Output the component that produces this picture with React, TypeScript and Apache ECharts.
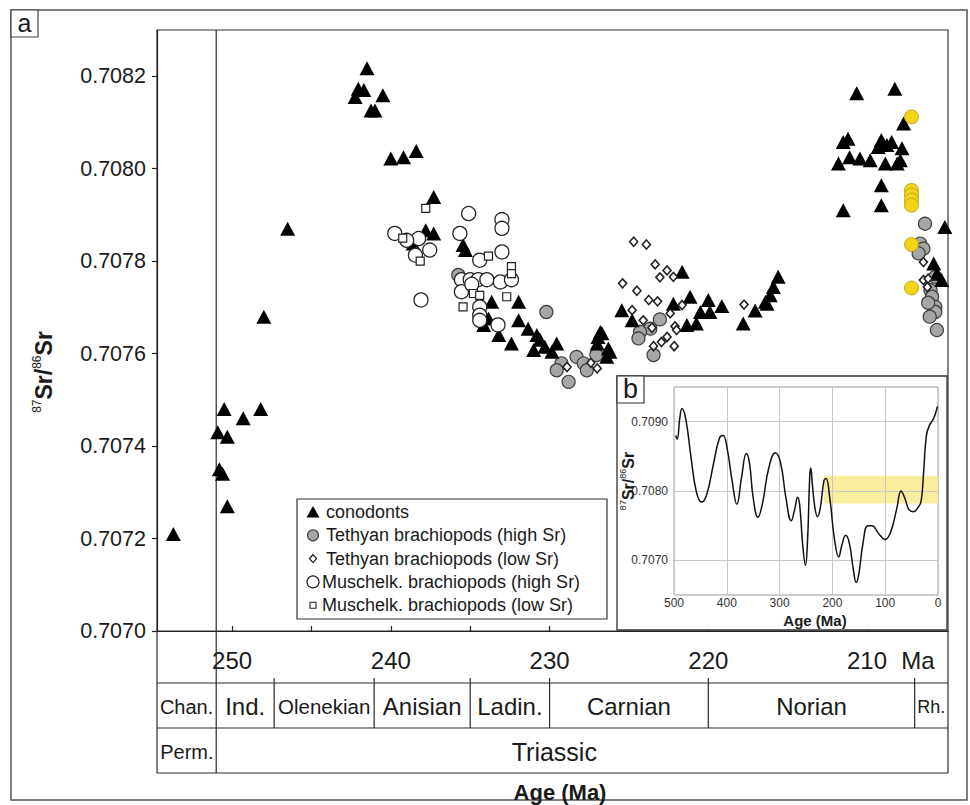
import React, { useEffect, useRef } from 'react';
import * as echarts from 'echarts';

// ---------- data (age in Ma, 87Sr/86Sr) ----------
const conodonts: number[][] = [
  [253.7, 0.70721], [250.9, 0.70743], [250.3, 0.70742], [250.5, 0.70748], [250.8, 0.70735], [250.6, 0.70734],
  [250.3, 0.70727], [249.3, 0.70746], [248.2, 0.70748], [248.0, 0.70768], [246.5, 0.70787],
  [242.25, 0.708155], [242.05, 0.708173], [241.7, 0.70817], [241.5, 0.708217], [241.25, 0.708126], [241.0, 0.708126],
  [240.5, 0.708159], [240.0, 0.708022], [239.2, 0.708025], [238.4, 0.708038],
  [237.3, 0.707939], [237.8, 0.707867], [237.3, 0.70786], [238.6, 0.707838], [235.45, 0.707835], [235.3, 0.707824],
  [233.65, 0.707712], [231.95, 0.707712], [231.95, 0.707672], [233.85, 0.707676], [234.15, 0.707662], [233.2, 0.70764],
  [231.35, 0.707654], [232.4, 0.707622], [230.8, 0.70764], [230.6, 0.70763], [231.0, 0.707608], [230.3, 0.707615],
  [229.55, 0.707622], [229.85, 0.707604],
  [226.8, 0.707647], [226.95, 0.707636], [227.0, 0.707622], [226.2, 0.707604], [226.7, 0.707644], [226.3, 0.707611],
  [226.4, 0.707593], [225.45, 0.707694], [224.8, 0.707672],
  [221.65, 0.707777], [221.15, 0.707723], [222.2, 0.707708], [220.0, 0.707716], [219.15, 0.707703], [220.5, 0.70769],
  [219.9, 0.70769], [221.35, 0.707662], [220.75, 0.707665],
  [217.8, 0.707665], [217.05, 0.707693], [216.3, 0.707708], [216.1, 0.707726], [216.4, 0.707712], [215.9, 0.707744],
  [215.6, 0.707766],
  [211.5, 0.70791], [209.1, 0.707921], [209.1, 0.707964],
  [211.8, 0.708011], [211.1, 0.708025], [210.45, 0.708022], [209.8, 0.708018], [211.2, 0.708065], [211.5, 0.708058],
  [209.1, 0.708062], [208.45, 0.708058], [207.8, 0.708044], [209.3, 0.708047], [208.75, 0.708051], [208.85, 0.708011],
  [208.1, 0.708011], [207.9, 0.708018], [207.7, 0.708098], [210.65, 0.708163], [208.25, 0.708173],
  [205.1, 0.707874], [205.8, 0.707795], [205.6, 0.707773], [205.3, 0.707759],
];

const tethyanHighSr: number[][] = [
  [235.75, 0.70777], [230.2, 0.70769], [227.05, 0.707597], [229.25, 0.707579], [229.55, 0.707564], [228.8, 0.707539],
  [228.3, 0.707593], [227.85, 0.707579], [227.65, 0.707564], [223.05, 0.707674], [223.65, 0.707654], [224.3, 0.707647],
  [224.4, 0.707633], [223.45, 0.707597],
  [206.35, 0.707881], [206.65, 0.707838], [206.45, 0.707827], [206.75, 0.707817], [205.7, 0.707766], [206.0, 0.707737],
  [205.9, 0.707723], [205.7, 0.707701], [205.7, 0.70769], [205.6, 0.707651], [206.15, 0.70771], [206.05, 0.70768],
];

const tethyanLowSr: number[][] = [
  [225.4, 0.707752], [224.7, 0.707842], [223.9, 0.707836], [223.35, 0.707793], [222.6, 0.70778], [223.05, 0.707765],
  [222.2, 0.707766], [224.5, 0.707736], [223.75, 0.707716], [223.2, 0.707713], [224.8, 0.707694], [221.65, 0.707705],
  [224.1, 0.707672], [222.4, 0.707687], [223.55, 0.707656], [222.1, 0.707659], [222.0, 0.707651], [222.6, 0.707636],
  [222.95, 0.707625], [223.45, 0.707616], [222.15, 0.707616], [217.75, 0.707706], [228.9, 0.707571], [227.0, 0.707568],
  [227.4, 0.70758], [206.45, 0.707798], [206.45, 0.707759], [206.15, 0.707762], [206.2, 0.707744],
];

const muschelkHighSr: number[][] = [
  [239.75, 0.70786], [238.25, 0.707849], [237.55, 0.707824], [238.45, 0.707813], [238.1, 0.707716], [239.0, 0.707845],
  [235.1, 0.707903], [235.65, 0.70786], [233.0, 0.70789], [233.0, 0.707871], [233.0, 0.70782], [234.4, 0.707802],
  [235.55, 0.70776], [235.0, 0.70776], [234.5, 0.70776], [233.95, 0.70776], [233.1, 0.707755], [232.4, 0.70776],
  [235.55, 0.707734], [234.4, 0.707701], [234.4, 0.707683], [234.4, 0.707672], [233.25, 0.707662], [234.9, 0.70775],
];

const muschelkLowSr: number[][] = [
  [237.8, 0.707914], [239.25, 0.70785], [238.15, 0.7078], [233.85, 0.707811], [232.4, 0.707788], [232.4, 0.707773],
  [232.7, 0.707723], [235.45, 0.707701], [234.8, 0.70773], [234.4, 0.707726],
];

const highlightedSamples: number[][] = [
  [207.2, 0.708112], [207.2, 0.707953], [207.2, 0.707943], [207.2, 0.707932], [207.2, 0.707921], [207.2, 0.707836],
  [207.2, 0.707742],
];

const xTickValues = [210, 215, 220, 225, 230, 235, 240, 245, 250];
const xLabelValues = [210, 220, 230, 240, 250];
const yTickValues = [0.707, 0.7072, 0.7074, 0.7076, 0.7078, 0.708, 0.7082];

const stageNames = ['Chan.', 'Ind.', 'Olenekian', 'Anisian', 'Ladin.', 'Carnian', 'Norian', 'Rh.'];
const stageBoundaries = [251, 247.35, 241.05, 235.0, 230.0, 220.0, 207.0];
const periodNames = ['Perm.', 'Triassic'];
const periodBoundary = 251;
const periodLabelAges = [252.85, 229.7];

const legendNames = [
  'conodonts',
  'Tethyan brachiopods (high Sr)',
  'Tethyan brachiopods (low Sr)',
  'Muschelk. brachiopods (high Sr)',
  'Muschelk. brachiopods (low Sr)',
];

// inset b: Phanerozoic seawater curve
const insetAges = [
  497, 494, 489, 485, 478, 468, 458, 448, 438, 425, 414, 407, 399, 390, 381, 372, 363, 357, 350, 341, 333, 320, 308,
  298, 288, 278, 271, 266, 262, 256, 251, 247, 243, 241, 238, 233, 228, 223, 216, 212, 205, 196, 188, 182, 175, 168,
  160, 155, 150, 142, 133, 125, 112, 100, 90, 78, 70, 63, 55, 47, 38, 32, 27, 22, 16, 8, 1,
];
const insetSr = [
  0.7088, 0.70875, 0.70905, 0.70919, 0.70905, 0.7085, 0.708, 0.70784, 0.70795, 0.7084, 0.70876, 0.7088, 0.7086, 0.70815,
  0.70781, 0.7082, 0.70854, 0.7084, 0.7079, 0.70762, 0.7078, 0.70835, 0.70855, 0.7084, 0.7079, 0.70757, 0.70775,
  0.70791, 0.7078, 0.7072, 0.70693, 0.7073, 0.7082, 0.70833, 0.7081, 0.70775, 0.70763, 0.70775, 0.70815, 0.70818,
  0.7079, 0.7073, 0.70705, 0.70722, 0.70736, 0.70725, 0.70685, 0.70668, 0.7068, 0.70725, 0.7075, 0.7075, 0.70738,
  0.7073, 0.7074, 0.70775, 0.708, 0.7079, 0.70773, 0.7077, 0.70776, 0.70785, 0.7083, 0.7088, 0.70895, 0.70905, 0.70922,
];
const insetYLabels = [0.707, 0.708, 0.709];
const bandAges = [216, 0];
const bandSr = [0.70782, 0.70822];

const FONT = '"Liberation Sans", Arial, Helvetica, sans-serif';
const INK = '#1a1a1a';

export default function App() {
  const ref = useRef<HTMLDivElement>(null);

  useEffect(() => {
    const chart = echarts.init(ref.current!, null, { renderer: 'svg' });
    const insetCurve = insetAges.map((a, i) => [a, insetSr[i]]);

    chart.setOption({
      animation: false,
      backgroundColor: '#fff',
      grid: [
        { left: 157, top: 30, width: 791, height: 601, show: true, borderColor: '#333', borderWidth: 1.2, backgroundColor: 'transparent', outerBoundsMode: 'none' },
        { left: 674, top: 387, width: 264, height: 208, show: true, borderColor: '#9a9a9a', borderWidth: 1, backgroundColor: '#fff', z: 8, outerBoundsMode: 'none' },
      ],
      xAxis: [
        {
          type: 'value', gridIndex: 0, min: 204.9, max: 254.73, inverse: true,
          axisLine: { show: true, onZero: false, lineStyle: { color: '#222', width: 1.2 } },
          axisTick: { show: true, inside: true, length: 5, customValues: xTickValues, lineStyle: { color: '#222', width: 1.2 } },
          axisLabel: { customValues: xLabelValues, fontSize: 24, color: INK, fontFamily: FONT, margin: 17 },
          splitLine: { show: false },
        },
        {
          type: 'value', gridIndex: 1, min: 0, max: 500, interval: 100, inverse: true, z: 10,
          axisLine: { show: false },
          axisTick: { show: false },
          axisLabel: { fontSize: 12, color: '#333', fontFamily: FONT, margin: 2, showMinLabel: true, showMaxLabel: true },
          splitLine: { show: true, lineStyle: { color: '#c8c8c8', width: 1 } },
        },
      ],
      yAxis: [
        {
          type: 'value', gridIndex: 0, min: 0.707, max: 0.7083,
          axisLine: { show: true, onZero: false, lineStyle: { color: '#222', width: 1.2 } },
          axisTick: { show: true, inside: false, length: 5, customValues: yTickValues, lineStyle: { color: '#222', width: 1.2 } },
          axisLabel: { customValues: yTickValues, fontSize: 21.5, color: INK, fontFamily: FONT, margin: 11, formatter: (v: number) => v.toFixed(4) },
          splitLine: { show: false },
        },
        {
          type: 'value', gridIndex: 1, min: 0.7065, max: 0.7095, z: 10,
          axisLine: { show: false },
          axisTick: { show: false, customValues: insetYLabels },
          axisLabel: { customValues: insetYLabels, fontSize: 12, color: '#333', fontFamily: FONT, margin: 6, formatter: (v: number) => v.toFixed(4) },
          splitLine: { show: true, lineStyle: { color: '#c8c8c8', width: 1 } },
        },
      ],
      series: [
        {
          name: 'Tethyan brachiopods (high Sr)', type: 'scatter', xAxisIndex: 0, yAxisIndex: 0, data: tethyanHighSr,
          symbol: 'circle', symbolSize: 13, itemStyle: { color: '#a6a6a6', borderColor: '#3c3c3c', borderWidth: 1.2, opacity: 1 }, z: 2,
        },
        {
          name: 'conodonts', type: 'scatter', xAxisIndex: 0, yAxisIndex: 0, data: conodonts,
          symbol: 'triangle', symbolSize: [15, 14], itemStyle: { color: '#000', opacity: 1 }, z: 3,
        },
        {
          name: 'Muschelk. brachiopods (high Sr)', type: 'scatter', xAxisIndex: 0, yAxisIndex: 0, data: muschelkHighSr,
          symbol: 'circle', symbolSize: 14, itemStyle: { color: '#fff', borderColor: '#222', borderWidth: 1.3, opacity: 1 }, z: 4,
        },
        {
          name: 'Muschelk. brachiopods (low Sr)', type: 'scatter', xAxisIndex: 0, yAxisIndex: 0, data: muschelkLowSr,
          symbol: 'rect', symbolSize: 8, itemStyle: { color: '#fff', borderColor: '#222', borderWidth: 1.2, opacity: 1 }, z: 5,
        },
        {
          name: 'Tethyan brachiopods (low Sr)', type: 'scatter', xAxisIndex: 0, yAxisIndex: 0, data: tethyanLowSr,
          symbol: 'diamond', symbolSize: [8, 9], itemStyle: { color: '#fff', borderColor: '#222', borderWidth: 1.6, opacity: 1 }, z: 5,
        },
        {
          name: 'highlighted samples', type: 'scatter', xAxisIndex: 0, yAxisIndex: 0, data: highlightedSamples,
          symbol: 'circle', symbolSize: 14, itemStyle: { color: '#f4d416', borderColor: '#b49a12', borderWidth: 0.8, opacity: 1 }, z: 6,
        },
        {
          name: 'seawater 87Sr/86Sr', type: 'line', xAxisIndex: 1, yAxisIndex: 1, data: insetCurve,
          smooth: 0.45, showSymbol: false, symbol: 'none', lineStyle: { color: '#111', width: 1.5 }, z: 12,
        },
      ],
    });

    const px = (v: number) => chart.convertToPixel({ xAxisIndex: 0 }, v) as number;
    const L = 157, R = 948, T = 30, AX = 631, ROW1 = 683, ROW2 = 728, ROW3 = 773;

    const line = (x1: number, y1: number, x2: number, y2: number, z = 5, w = 1.2, color = '#2a2a2a') => ({
      type: 'line', shape: { x1, y1, x2, y2 }, style: { stroke: color, lineWidth: w }, z, silent: true,
    });
    const text = (x: number, y: number, t: string, size: number, extra: any = {}, z = 6) => ({
      type: 'text', x, y, z, silent: true,
      style: {
        text: t, fontSize: size, fontFamily: FONT, fill: INK,
        align: 'center', verticalAlign: 'middle', textAlign: 'center', textVerticalAlign: 'middle', ...extra,
      },
    });

    const g: any[] = [];
    // outer frame and panel label a
    g.push({ type: 'rect', shape: { x: 11, y: 10, width: 956, height: 790 }, style: { fill: 'none', stroke: '#555', lineWidth: 1.5 }, z: 5, silent: true });
    g.push({ type: 'rect', shape: { x: 11, y: 10, width: 27, height: 27 }, style: { fill: '#fff', stroke: '#444', lineWidth: 1.2 }, z: 5, silent: true });
    g.push(text(24.5, 22.5, 'a', 25));

    // P/T boundary vertical line through the plot and the scale
    const xPT = px(periodBoundary);
    g.push(line(xPT, T, xPT, ROW3, 1));
    // timescale table frame
    g.push(line(L, AX, L, ROW3));
    g.push(line(R, AX, R, ROW3));
    g.push(line(L, ROW1, R, ROW1));
    g.push(line(L, ROW2, R, ROW2));
    g.push(line(L, ROW3, R, ROW3));
    const edges = [px(254.73), ...stageBoundaries.map(px), px(204.9)];
    stageBoundaries.forEach((b) => {
      const x = px(b);
      if (b !== periodBoundary) g.push(line(x, ROW1 - 5, x, ROW2));
    });
    const stageSizes: Record<string, number> = { 'Chan.': 20, 'Olenekian': 20.5, 'Rh.': 18 };
    stageNames.forEach((n, i) => {
      const cx = (edges[i] + edges[i + 1]) / 2;
      g.push(text(cx, (ROW1 + ROW2) / 2 + 1, n, stageSizes[n] || 24));
    });
    periodNames.forEach((n, i) => {
      g.push(text(px(periodLabelAges[i]), (ROW2 + ROW3) / 2 + 1, n, n === 'Perm.' ? 20 : 25));
    });
    // unit and axis titles
    g.push(text(918, 660, 'Ma', 24));
    g.push(text(560, 792, 'Age (Ma)', 22, { fontWeight: 'bold' }));

    // rotated y-axis title 87Sr/86Sr
    const yTitle = (cx: number, cy: number, big: number, small: number) => {
      const wSup = small * 1.112, wSr1 = big * 1.334, wSr2 = big * 1.056;
      const total = wSup * 2 + wSr1 + wSr2;
      let x0 = -total / 2;
      const parts: any[] = [];
      const add = (t: string, sup: boolean, w: number) => {
        parts.push({
          type: 'text', x: x0, y: sup ? -big * 0.3 : 0, silent: true,
          style: {
            text: t, fontSize: sup ? small : big, fontWeight: sup ? 'normal' : 'bold', fontFamily: FONT, fill: INK,
            align: 'left', verticalAlign: 'middle', textAlign: 'left', textVerticalAlign: 'middle',
          },
        });
        x0 += w;
      };
      add('87', true, wSup);
      add('Sr/', false, wSr1);
      add('86', true, wSup);
      add('Sr', false, wSr2);
      return { type: 'group', x: cx, y: cy, rotation: Math.PI / 2, z: 12, children: parts.map((p) => ({ ...p, z: 12 })) };
    };
    g.push(yTitle(44, 372, 23, 12));

    // legend box
    const LX = 297, LY = 499, LW = 310, LH = 120, ROW0 = 512, STEP = 23.3, IX = 313;
    g.push({ type: 'rect', shape: { x: LX, y: LY, width: LW, height: LH }, style: { fill: '#fff', stroke: '#333', lineWidth: 1.2 }, z: 7, silent: true });
    const icons = [
      (y: number) => ({ type: 'polygon', shape: { points: [[IX, y - 6], [IX + 6.5, y + 5.5], [IX - 6.5, y + 5.5]] }, style: { fill: '#000' } }),
      (y: number) => ({ type: 'circle', shape: { cx: IX, cy: y, r: 5.5 }, style: { fill: '#a6a6a6', stroke: '#3c3c3c', lineWidth: 1.1 } }),
      (y: number) => ({ type: 'polygon', shape: { points: [[IX, y - 4], [IX + 3.5, y], [IX, y + 4], [IX - 3.5, y]] }, style: { fill: '#fff', stroke: '#222', lineWidth: 1.3 } }),
      (y: number) => ({ type: 'circle', shape: { cx: IX, cy: y, r: 6 }, style: { fill: '#fff', stroke: '#222', lineWidth: 1.2 } }),
      (y: number) => ({ type: 'rect', shape: { x: IX - 3, y: y - 3, width: 6, height: 6 }, style: { fill: '#fff', stroke: '#222', lineWidth: 1.1 } }),
    ];
    legendNames.forEach((n, i) => {
      const y = ROW0 + i * STEP;
      g.push({ ...icons[i](y), z: 8, silent: true });
      g.push(text(i >= 3 ? 322 : 326, y, n, 18, { align: 'left', textAlign: 'left' }, 8));
    });

    // inset b
    g.push({ type: 'rect', shape: { x: 617, y: 376, width: 330, height: 254 }, style: { fill: '#fff', stroke: '#333', lineWidth: 1.3 }, z: 7, silent: true });
    g.push({ type: 'rect', shape: { x: 617, y: 376, width: 27, height: 27 }, style: { fill: '#fff', stroke: '#333', lineWidth: 1.2 }, z: 13, silent: true });
    g.push(text(630.5, 388.5, 'b', 27, {}, 13));
    const p1 = chart.convertToPixel({ xAxisIndex: 1, yAxisIndex: 1 }, [bandAges[0], bandSr[1]]) as number[];
    const p2 = chart.convertToPixel({ xAxisIndex: 1, yAxisIndex: 1 }, [bandAges[1], bandSr[0]]) as number[];
    g.push({ type: 'rect', shape: { x: p1[0], y: p1[1], width: p2[0] - p1[0], height: p2[1] - p1[1] }, style: { fill: '#f7ea92', opacity: 0.9 }, z: 9, silent: true });
    g.push(text(815, 620.5, 'Age (Ma)', 15, { fontWeight: 'bold' }, 12));
    g.push(yTitle(628, 481, 16, 9));

    chart.setOption({ graphic: g });
    return () => chart.dispose();
  }, []);

  return <div ref={ref} style={{ position: 'absolute', left: 0, top: 0, width: 970, height: 805, background: '#fff' }} />;
}
